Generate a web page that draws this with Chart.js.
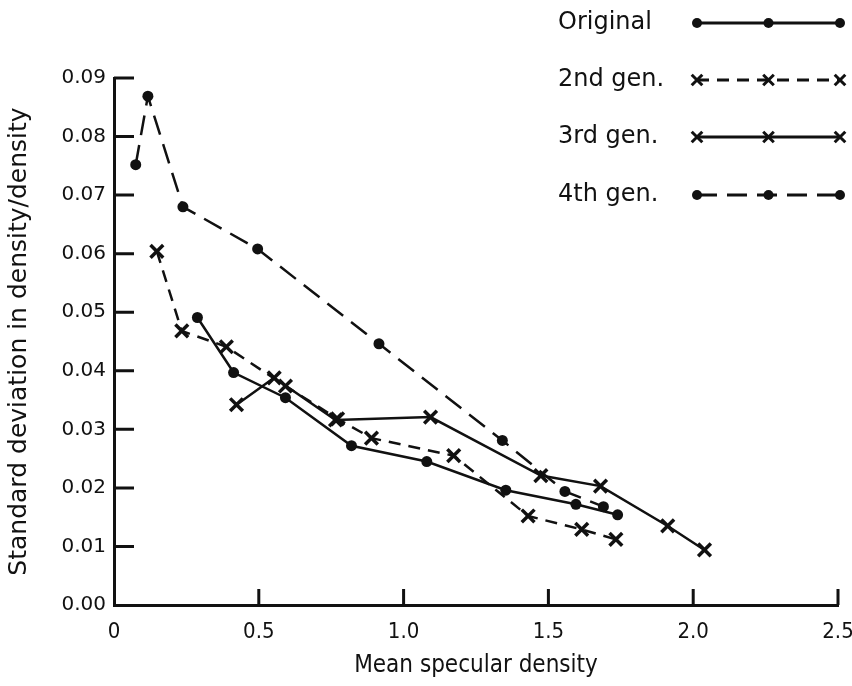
<!DOCTYPE html>
<html>
<head>
<meta charset="utf-8">
<script src="https://cdn.jsdelivr.net/npm/chart.js@4.4.1/dist/chart.umd.min.js"></script>
<style>
  html, body { margin: 0; padding: 0; background: #fff; }
  #wrap { width: 852px; height: 686px; position: relative; }
</style>
</head>
<body>
<div id="wrap"><canvas id="chart"></canvas></div>
<script>
/* tick labels */
const xTickLabels = ["0", "0.5", "1.0", "1.5", "2.0", "2.5"];
const yTickLabels = ["0.00", "0.01", "0.02", "0.03", "0.04", "0.05", "0.06", "0.07", "0.08", "0.09"];

/* series: mean specular density (x) vs std dev in density/density (y) */
const seriesNames = ["Original", "2nd gen.", "3rd gen.", "4th gen."];

const origX = [0.288, 0.413, 0.592, 0.820, 1.080, 1.353, 1.595, 1.739];
const origY = [0.0491, 0.0397, 0.0354, 0.0272, 0.0245, 0.0196, 0.0172, 0.0154];

const gen2X = [0.148, 0.234, 0.388, 0.592, 0.772, 0.889, 1.173, 1.430, 1.615, 1.733];
const gen2Y = [0.0604, 0.0468, 0.0441, 0.0374, 0.0318, 0.0285, 0.0255, 0.0152, 0.0129, 0.0112];

const gen3X = [0.423, 0.553, 0.765, 1.093, 1.474, 1.680, 1.912, 2.039];
const gen3Y = [0.0342, 0.0388, 0.0316, 0.0321, 0.0221, 0.0203, 0.0135, 0.0094];

const gen4X = [0.075, 0.117, 0.238, 0.496, 0.915, 1.341, 1.557, 1.690];
const gen4Y = [0.0752, 0.0869, 0.0680, 0.0608, 0.0446, 0.0281, 0.0194, 0.0168];

const ink = "#111";
const pts = (xs, ys) => xs.map((x, i) => ({ x, y: ys[i] }));

function series(name, xs, ys, dash, style){
  const dot = style === "circle";
  return {
    label: name,
    data: pts(xs, ys),
    showLine: true,
    borderColor: ink,
    backgroundColor: ink,
    borderWidth: 2.5,
    borderDash: dash,
    pointStyle: style,
    pointRadius: dot ? 5.5 : 9,
    pointBorderWidth: dot ? 0 : 3.5,
    pointBackgroundColor: ink,
    pointBorderColor: ink
  };
}

const datasets = [
  series(seriesNames[0], origX, origY, [], "circle"),
  series(seriesNames[1], gen2X, gen2Y, [12, 8], "crossRot"),
  series(seriesNames[2], gen3X, gen3Y, [], "crossRot"),
  series(seriesNames[3], gen4X, gen4Y, [20, 10], "circle")
];

// inward tick marks along both axes
const innerTicks = {
  id: "innerTicks",
  afterDraw(chart){
    const {ctx, chartArea: a, scales: {x, y}} = chart;
    ctx.save();
    ctx.strokeStyle = ink;
    ctx.lineWidth = 3;
    ctx.beginPath();
    y.ticks.forEach(t => {
      if(t.value === 0) return;
      const py = y.getPixelForValue(t.value);
      ctx.moveTo(a.left, py); ctx.lineTo(a.left + 20, py);
    });
    x.ticks.forEach(t => {
      if(t.value === 0) return;
      const px = x.getPixelForValue(t.value);
      ctx.moveTo(px, a.bottom); ctx.lineTo(px, a.bottom - 16);
    });
    ctx.stroke();
    ctx.restore();
  }
};

// legend: name on the left, three-marker line sample on the right
const sampleLegend = {
  id: "sampleLegend",
  afterDraw(chart){
    const ctx = chart.ctx;
    const rows = [23, 80, 137, 195];
    const x0 = 697, x1 = 840;
    ctx.save();
    chart.data.datasets.forEach((ds, i) => {
      const yy = rows[i];
      ctx.fillStyle = ink;
      ctx.font = "24px 'DejaVu Sans'";
      ctx.textBaseline = "middle";
      ctx.textAlign = "left";
      ctx.fillText(ds.label, 558, yy);

      ctx.strokeStyle = ink;
      ctx.lineWidth = 3;
      ctx.setLineDash(ds.borderDash);
      ctx.beginPath();
      ctx.moveTo(x0, yy); ctx.lineTo(x1, yy);
      ctx.stroke();
      ctx.setLineDash([]);
      [x0, (x0 + x1) / 2, x1].forEach(px => {
        Chart.helpers.drawPoint(ctx, {
          pointStyle: ds.pointStyle,
          radius: ds.pointStyle === "circle" ? 5 : 7.5,
          rotation: 0,
          borderWidth: ds.pointBorderWidth
        }, px, yy);
      });
    });
    ctx.restore();
  }
};

new Chart(document.getElementById("chart"), {
  type: "scatter",
  data: { datasets },
  options: {
    responsive: true,
    maintainAspectRatio: false,
    animation: false,
    layout: { padding: { top: 78, right: 0, left: 0, bottom: 0 } },
    plugins: { legend: { display: false }, tooltip: { enabled: false } },
    scales: {
      x: {
        type: "linear",
        min: 0, max: 2.5,
        afterBuildTicks: s => { s.ticks = xTickLabels.map(v => ({ value: Number(v) })); },
        afterFit: s => { s.height = 81; s.paddingRight = 14; s.paddingLeft = 0; },
        grid: { display: false, drawTicks: false },
        border: { display: true, color: ink, width: 3 },
        ticks: {
          color: ink,
          padding: 14,
          maxRotation: 0,
          font: { family: "'DejaVu Sans Condensed', 'Liberation Sans Narrow', 'DejaVu Sans'", size: 22 },
          callback: (v, i) => xTickLabels[i]
        },
        title: {
          display: true,
          text: "Mean specular density",
          color: ink,
          padding: { top: 4, bottom: 6 },
          font: { family: "'DejaVu Sans Condensed', 'Liberation Sans Narrow', 'DejaVu Sans'", size: 24 }
        }
      },
      y: {
        type: "linear",
        min: 0, max: 0.09,
        afterBuildTicks: s => { s.ticks = yTickLabels.map(v => ({ value: Number(v) })); },
        afterFit: s => { s.width = 114; },
        grid: { display: false, drawTicks: false },
        border: { display: true, color: ink, width: 3 },
        ticks: {
          color: ink,
          padding: 8,
          font: { family: "'DejaVu Sans'", size: 20 },
          callback: (v, i) => yTickLabels[i]
        },
        title: {
          display: true,
          text: "Standard deviation in density/density",
          color: ink,
          padding: { top: 4, bottom: 0 },
          font: { family: "'DejaVu Sans'", size: 25 }
        }
      }
    }
  },
  plugins: [innerTicks, sampleLegend]
});
</script>
</body>
</html>
